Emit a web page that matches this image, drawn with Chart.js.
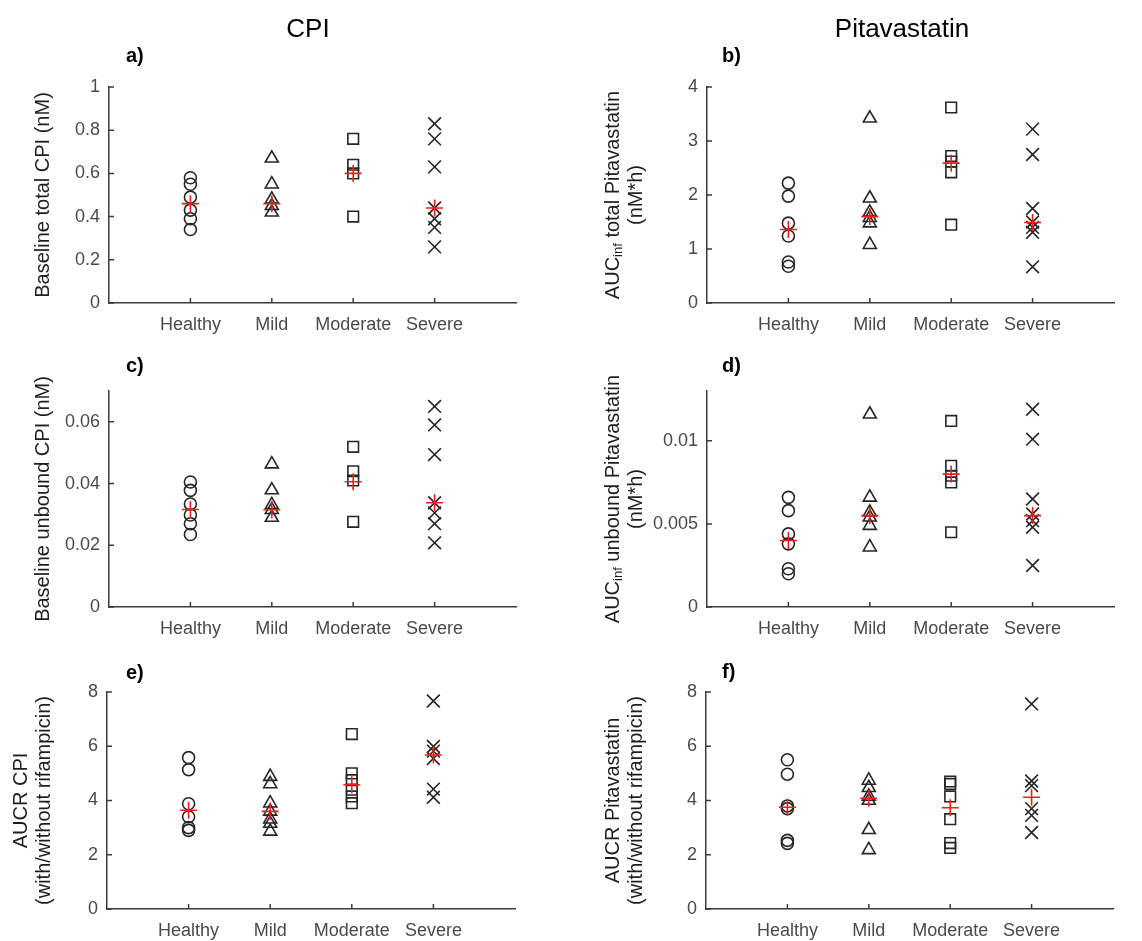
<!DOCTYPE html>
<html>
<head>
<meta charset="utf-8">
<title>CPI and pitavastatin by hepatic impairment</title>
<script src="https://cdn.jsdelivr.net/npm/chart.js@4.4.1/dist/chart.umd.min.js"></script>
<style>
  html, body { margin: 0; padding: 0; background: #fff; overflow: hidden; }
  #page { position: relative; width: 1142px; height: 941px; }
  #page canvas { position: absolute; left: 0; top: 0; }
</style>
</head>
<body>
<div id="page"></div>
<script>
// groups and their marker shapes
const groups = ['Healthy', 'Mild', 'Moderate', 'Severe'];
const markers = ['circle', 'triangle', 'rect', 'crossRot'];

// a) baseline total CPI (nM), one list per group
const cpiTotal = [
  [0.58, 0.55, 0.49, 0.43, 0.39, 0.34],
  [0.67, 0.55, 0.48, 0.45, 0.42],
  [0.76, 0.64, 0.60, 0.40],
  [0.83, 0.76, 0.63, 0.44, 0.39, 0.35, 0.26]
];
const cpiTotalMedian = [0.46, 0.46, 0.60, 0.44];
const cpiTotalTicks = [0, 0.2, 0.4, 0.6, 0.8, 1];

// b) AUCinf total pitavastatin (nM*h)
const pitaTotal = [
  [2.22, 1.98, 1.48, 1.24, 0.76, 0.68],
  [3.42, 1.94, 1.68, 1.58, 1.48, 1.08],
  [3.62, 2.72, 2.62, 2.42, 1.45],
  [3.22, 2.75, 1.75, 1.50, 1.40, 1.31, 0.67]
];
const pitaTotalMedian = [1.36, 1.60, 2.59, 1.49];
const pitaTotalTicks = [0, 1, 2, 3, 4];

// c) baseline unbound CPI (nM)
const cpiUnbound = [
  [0.0405, 0.0378, 0.0334, 0.0298, 0.0270, 0.0235],
  [0.0463, 0.0379, 0.0331, 0.0315, 0.0290],
  [0.0519, 0.0440, 0.0410, 0.0276],
  [0.0650, 0.0590, 0.0494, 0.0338, 0.0305, 0.0270, 0.0208]
];
const cpiUnboundMedian = [0.0316, 0.0315, 0.0406, 0.0338];
const cpiUnboundTicks = [0, 0.02, 0.04, 0.06];

// d) AUCinf unbound pitavastatin (nM*h)
const pitaUnbound = [
  [0.0066, 0.0058, 0.0044, 0.0038, 0.0023, 0.0020],
  [0.0116, 0.0066, 0.0057, 0.0054, 0.0049, 0.0036],
  [0.0112, 0.0085, 0.0079, 0.0075, 0.0045],
  [0.0119, 0.0101, 0.0065, 0.0056, 0.0052, 0.0048, 0.0025]
];
const pitaUnboundMedian = [0.0040, 0.0055, 0.0080, 0.0055];
const pitaUnboundTicks = [0, 0.005, 0.01];

// e) AUCR CPI (with/without rifampicin)
const cpiAucr = [
  [5.58, 5.14, 3.88, 3.40, 3.00, 2.90],
  [4.88, 4.61, 3.90, 3.60, 3.31, 3.15, 2.86],
  [6.45, 5.00, 4.75, 4.40, 4.15, 3.90],
  [7.67, 5.99, 5.82, 5.55, 4.42, 4.12]
];
const cpiAucrMedian = [3.64, 3.60, 4.58, 5.68];
const cpiAucrTicks = [0, 2, 4, 6, 8];

// f) AUCR pitavastatin (with/without rifampicin)
const pitaAucr = [
  [5.50, 4.97, 3.80, 3.70, 2.53, 2.42],
  [4.74, 4.47, 4.15, 4.00, 2.92, 2.18],
  [4.70, 4.61, 4.15, 3.31, 2.43, 2.25],
  [7.56, 4.72, 4.55, 3.70, 3.45, 2.82]
];
const pitaAucrMedian = [3.75, 4.08, 3.73, 4.12];
const pitaAucrTicks = [0, 2, 4, 6, 8];

const W = 1142, H = 941;
const FONT = '"Liberation Sans", Arial, Helvetica, sans-serif';
const axisColor = '#3c3c3c';
const tickColor = '#4a4a4a';
const labelColor = '#1e1e1e';
const markerColor = '#262626';
const markerSize = { circle: 6, triangle: 7.5, rect: 7.5, crossRot: 9 };

// plot boxes are [left, top, right, bottom] in page pixels
const panels = [
  { letter: 'a)', letterPos: [126, 56], values: cpiTotal, median: cpiTotalMedian,
    ticks: cpiTotalTicks, max: 1, box: [109, 87, 516, 303],
    heading: { text: 'CPI', x: 308, y: 30 },
    yTitle: [{ x: 43, parts: [['Baseline total CPI (nM)']] }] },
  { letter: 'b)', letterPos: [722, 56], values: pitaTotal, median: pitaTotalMedian,
    ticks: pitaTotalTicks, max: 4, box: [707, 87, 1114, 303],
    heading: { text: 'Pitavastatin', x: 902, y: 30 },
    yTitle: [{ x: 613, parts: [['AUC'], ['inf', true], [' total Pitavastatin']] },
             { x: 636, parts: [['(nM*h)']] }] },
  { letter: 'c)', letterPos: [126, 366], values: cpiUnbound, median: cpiUnboundMedian,
    ticks: cpiUnboundTicks, max: 0.07, box: [109, 391, 516, 607],
    yTitle: [{ x: 43, parts: [['Baseline unbound CPI (nM)']] }] },
  { letter: 'd)', letterPos: [722, 366], values: pitaUnbound, median: pitaUnboundMedian,
    ticks: pitaUnboundTicks, max: 0.013, box: [707, 391, 1114, 607],
    yTitle: [{ x: 613, parts: [['AUC'], ['inf', true], [' unbound Pitavastatin']] },
             { x: 636, parts: [['(nM*h)']] }] },
  { letter: 'e)', letterPos: [126, 673], values: cpiAucr, median: cpiAucrMedian,
    ticks: cpiAucrTicks, max: 8, box: [107, 692, 515, 909],
    yTitle: [{ x: 21, parts: [['AUCR CPI']] },
             { x: 44, parts: [['(with/without rifampicin)']] }] },
  { letter: 'f)', letterPos: [722, 672], values: pitaAucr, median: pitaAucrMedian,
    ticks: pitaAucrTicks, max: 8, box: [706, 692, 1113, 909],
    yTitle: [{ x: 613, parts: [['AUCR Pitavastatin']] },
             { x: 636, parts: [['(with/without rifampicin)']] }] }
];

// rotated axis label, parts may carry a subscript flag
function drawRotated(ctx, cx, cy, parts) {
  const main = '20px ' + FONT, small = '13px ' + FONT;
  ctx.save();
  ctx.translate(cx, cy);
  ctx.rotate(-Math.PI / 2);
  ctx.textBaseline = 'middle';
  ctx.textAlign = 'left';
  ctx.fillStyle = labelColor;
  const widths = parts.map(([t, sub]) => {
    ctx.font = sub ? small : main;
    return ctx.measureText(t).width;
  });
  let x = -widths.reduce((a, b) => a + b, 0) / 2;
  parts.forEach(([t, sub], i) => {
    ctx.font = sub ? small : main;
    ctx.fillText(t, x, sub ? 5 : 0);
    x += widths[i];
  });
  ctx.restore();
}

// inward tick marks, panel letter, headings and y titles
const decor = {
  id: 'decor',
  beforeDatasetsDraw(chart) {
    const ctx = chart.ctx;
    const { left, bottom } = chart.chartArea;
    const xs = chart.scales.x, ys = chart.scales.y;
    ctx.save();
    ctx.strokeStyle = axisColor;
    ctx.lineWidth = 1.5;
    ctx.beginPath();
    ys.ticks.forEach(t => {
      const py = ys.getPixelForValue(t.value);
      ctx.moveTo(left, py);
      ctx.lineTo(left + 5, py);
    });
    xs.ticks.forEach(t => {
      const px = xs.getPixelForValue(t.value);
      ctx.moveTo(px, bottom);
      ctx.lineTo(px, bottom - 5);
    });
    ctx.stroke();
    ctx.restore();
  },
  afterDraw(chart, args, opts) {
    const p = opts.panel;
    const ctx = chart.ctx;
    const { top, bottom } = chart.chartArea;
    ctx.save();
    ctx.fillStyle = '#000';
    ctx.textBaseline = 'middle';
    ctx.textAlign = 'left';
    ctx.font = 'bold 20px ' + FONT;
    ctx.fillText(p.letter, p.letterPos[0], p.letterPos[1]);
    if (p.heading) {
      ctx.textAlign = 'center';
      ctx.font = '26px ' + FONT;
      ctx.fillText(p.heading.text, p.heading.x, p.heading.y);
    }
    ctx.restore();
    p.yTitle.forEach(line => drawRotated(ctx, line.x, (top + bottom) / 2, line.parts));
  }
};

const page = document.getElementById('page');

panels.forEach(p => {
  const canvas = document.createElement('canvas');
  canvas.width = W;
  canvas.height = H;
  page.appendChild(canvas);

  const [x0, y0, x1, y1] = p.box;
  const yAxisWidth = 90, xAxisHeight = 40;

  const datasets = p.values.map((vals, i) => ({
    label: groups[i],
    data: vals.map(v => ({ x: i + 1, y: v })),
    pointStyle: markers[i],
    pointRadius: markerSize[markers[i]],
    pointBorderWidth: 1.6,
    borderColor: markerColor,
    backgroundColor: 'rgba(0,0,0,0)',
    showLine: false,
    order: 1
  }));
  datasets.push({
    label: 'median',
    data: p.median.map((v, i) => ({ x: i + 1, y: v })),
    pointStyle: 'cross',
    pointRadius: 8.5,
    pointBorderWidth: 1.6,
    borderColor: '#ff1a1a',
    backgroundColor: 'rgba(0,0,0,0)',
    showLine: false,
    order: 0
  });

  new Chart(canvas, {
    type: 'scatter',
    data: { datasets },
    plugins: [decor],
    options: {
      responsive: false,
      animation: false,
      events: [],
      layout: {
        padding: { left: x0 - yAxisWidth, top: y0, right: W - x1, bottom: H - y1 - xAxisHeight }
      },
      plugins: {
        legend: { display: false },
        tooltip: { enabled: false },
        decor: { panel: p }
      },
      scales: {
        x: {
          type: 'linear',
          min: 0,
          max: 5,
          afterBuildTicks: s => { s.ticks = groups.map((g, i) => ({ value: i + 1 })); },
          afterFit: s => { s.height = xAxisHeight; },
          grid: { display: false, drawTicks: false },
          border: { display: true, color: axisColor, width: 1.5 },
          ticks: {
            autoSkip: false,
            maxRotation: 0,
            padding: 11,
            color: tickColor,
            font: { family: FONT, size: 18 },
            callback: v => groups[Math.round(v) - 1] || ''
          }
        },
        y: {
          type: 'linear',
          min: 0,
          max: p.max,
          afterBuildTicks: s => { s.ticks = p.ticks.map(v => ({ value: v })); },
          afterFit: s => { s.width = yAxisWidth; },
          grid: { display: false, drawTicks: false },
          border: { display: true, color: axisColor, width: 1.5 },
          ticks: {
            padding: 9,
            color: tickColor,
            font: { family: FONT, size: 18 },
            callback: v => String(v)
          }
        }
      }
    }
  });
});
</script>
</body>
</html>
